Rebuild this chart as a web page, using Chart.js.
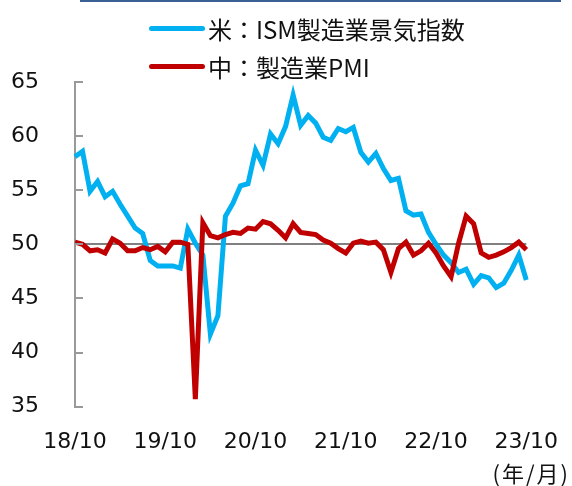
<!DOCTYPE html>
<html lang="ja">
<head>
<meta charset="utf-8">
<title>米中 製造業景気指数</title>
<script src="https://cdn.jsdelivr.net/npm/chart.js@4/dist/chart.umd.min.js"></script>
<style>
  html, body { margin: 0; padding: 0; background: #fff; }
  #wrap { position: relative; width: 572px; height: 486px; overflow: hidden; }
  #chart { position: absolute; left: 0; top: 0; }
  .topline { position: absolute; left: 80px; top: 0; width: 481px; height: 2px; background: #3a5f95; }
  .legend { position: absolute; left: 149px; top: 9px; font-family: "Noto Sans CJK JP", sans-serif; font-size: 24px; color: #111; }
  .legend .row { display: flex; align-items: center; height: 38.5px; }
  .legend .swatch { width: 56px; height: 5px; border-radius: 3px; margin-right: 3px; }
  .unit { position: absolute; right: 2px; top: 456px; font-family: "Noto Sans CJK JP", sans-serif; font-size: 22px; letter-spacing: 2px; color: #111; }
</style>
</head>
<body>
<div id="wrap">
  <div class="topline"></div>
  <canvas id="chart" width="572" height="486"></canvas>
  <div class="legend" id="legend"></div>
  <div class="unit">(年/月)</div>
</div>
<script>
// ----- data (2018/10 – 2023/10, monthly) -----
const TICK_LABELS = ["18/10", "19/10", "20/10", "21/10", "22/10", "23/10"];

const US_LABEL = "米：ISM製造業景気指数";
const CN_LABEL = "中：製造業PMI";

const US_ISM = [
  58.1, 58.6, 54.9, 55.8, 54.4, 54.9, 53.7, 52.6, 51.5, 51.0, 48.5, 48.0,
  48.0, 48.0, 47.8, 51.4, 50.1, 49.0, 41.7, 43.4, 52.6, 53.8, 55.4, 55.6,
  58.7, 57.3, 60.2, 59.3, 60.9, 63.8, 61.0, 61.9, 61.2, 59.9, 59.6, 60.7,
  60.4, 60.8, 58.5, 57.6, 58.4, 57.0, 55.9, 56.1, 53.1, 52.7, 52.8, 51.1,
  50.0, 49.0, 48.3, 47.4, 47.7, 46.3, 47.1, 46.9, 46.0, 46.4, 47.6, 49.0,
  46.7,
];

const CN_PMI = [
  50.2, 50.0, 49.4, 49.5, 49.2, 50.5, 50.1, 49.4, 49.4, 49.7, 49.5, 49.8,
  49.3, 50.2, 50.2, 50.0, 35.7, 52.0, 50.8, 50.6, 50.9, 51.1, 51.0, 51.5,
  51.4, 52.1, 51.9, 51.3, 50.6, 51.9, 51.1, 51.0, 50.9, 50.4, 50.1, 49.6,
  49.2, 50.1, 50.3, 50.1, 50.2, 49.5, 47.4, 49.6, 50.2, 49.0, 49.4, 50.1,
  49.2, 48.0, 47.0, 50.1, 52.6, 51.9, 49.2, 48.8, 49.0, 49.3, 49.7, 50.2,
  49.5,
];

// month labels yy/mm
const MONTHS = [];
for (let i = 0; i < US_ISM.length; i++) {
  const m = (9 + i) % 12 + 1;
  const y = 18 + Math.floor((9 + i) / 12);
  MONTHS.push(`${y}/${String(m).padStart(2, "0")}`);
}

const BLUE = "#00b0f0";
const RED = "#c00000";
const AXIS = "#999999";
const TICK_FONT = { family: "'DejaVu Sans', Verdana, sans-serif", size: 22 };

// 軸の内側に短い目盛り線を描く
const innerTicks = {
  id: "innerTicks",
  afterDraw(chart) {
    const y = chart.scales.y;
    const left = chart.chartArea.left;
    const ctx = chart.ctx;
    ctx.save();
    ctx.strokeStyle = AXIS;
    ctx.lineWidth = 2;
    y.getTicks().forEach((t) => {
      const py = Math.round(y.getPixelForValue(t.value));
      ctx.beginPath();
      ctx.moveTo(left - 1, py);
      ctx.lineTo(left + 8, py);
      ctx.stroke();
    });
    ctx.restore();
  },
};

const chart = new Chart(document.getElementById("chart"), {
  type: "line",
  data: {
    labels: MONTHS,
    datasets: [
      { label: US_LABEL, data: US_ISM, borderColor: BLUE, backgroundColor: BLUE,
        borderWidth: 5, pointRadius: 0, tension: 0, order: 2 },
      { label: CN_LABEL, data: CN_PMI, borderColor: RED, backgroundColor: RED,
        borderWidth: 5, pointRadius: 0, tension: 0, order: 1 },
    ],
  },
  options: {
    responsive: false,
    animation: false,
    devicePixelRatio: 1,
    layout: { padding: { top: 82, right: 32, left: 0, bottom: 17 } },
    plugins: { legend: { display: false }, tooltip: { enabled: false } },
    scales: {
      x: {
        grid: { display: false },
        border: { display: false },
        ticks: {
          autoSkip: false, maxRotation: 0, minRotation: 0,
          color: "#111", font: TICK_FONT, padding: 14,
          callback: function (v) {
            const s = this.getLabelForValue(v);
            return TICK_LABELS.includes(s) ? s : "";
          },
        },
      },
      y: {
        min: 35, max: 65,
        afterFit: (s) => { s.width = 75; },
        ticks: { stepSize: 5, color: "#111", font: TICK_FONT, padding: 36 },
        border: { display: true, color: AXIS, width: 2 },
        grid: {
          drawOnChartArea: true,
          drawTicks: false,
          color: (c) => (c.tick && c.tick.value === 50 ? "#808080" : "rgba(0,0,0,0)"),
          lineWidth: 2,
        },
      },
    },
  },
  plugins: [innerTicks],
});

// HTML legend (stacked, left aligned)
const legend = document.getElementById("legend");
chart.data.datasets.forEach((ds) => {
  const row = document.createElement("div");
  row.className = "row";
  row.innerHTML = `<span class="swatch" style="background:${ds.borderColor}"></span><span>${ds.label}</span>`;
  legend.appendChild(row);
});
</script>
</body>
</html>
